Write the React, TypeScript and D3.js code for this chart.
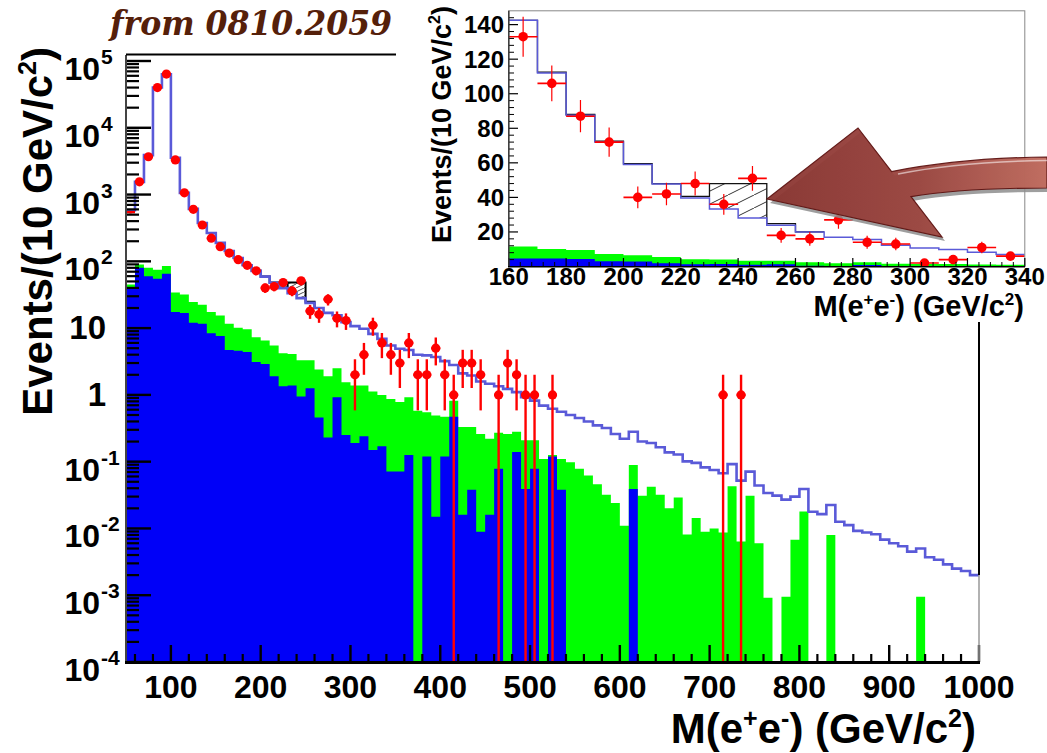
import React from "react";
import * as d3 from "d3";

// 10 GeV bins from 50 to 1000 GeV (95 bins)
const binLow = 50;
const binW = 10;

const dataCounts = [
  545, 1550, 3680, 40000, 63800, 3300, 1060, 600, 350, 222, 166,
  133, 106, 87, 72, 40, 42, 48, 36, 51, 18, 16, 27, 14, 13, 2, 4, 11, 6,
  4, 3, 6, 2, 2, 5, 2, 1, 3, 3, 2, 0, 1, 3, 2, 1, 1, 0, 1,
  0, 0, 0, 0, 0, 0, 0, 0, 0, 0, 0, 0, 0, 0, 0, 0, 0, 0, 1, 0, 1,
  0, 0, 0, 0, 0, 0, 0, 0, 0, 0, 0, 0, 0, 0, 0, 0, 0, 0, 0, 0, 0, 0, 0, 0, 0, 0,
];

const mcTotal = [
  583, 1550, 3900, 40000, 63000, 3550, 1060, 610, 375, 265, 189,
  142.5, 112, 87.5, 72, 59, 47.8, 39.7, 33.3, 28.1, 23.9, 20, 16.9, 15.6, 12.3, 10.7, 9.8, 8.2, 6.9,
  5.5, 4.9, 4.7, 4.0, 3.9, 3.7, 3.2, 2.8, 2.1, 1.95,
  1.59, 1.47, 1.35, 1.23, 1.1, 0.92, 0.82, 0.69, 0.62, 0.56, 0.5, 0.45, 0.4, 0.35, 0.32, 0.26, 0.22, 0.28, 0.2,
  0.19, 0.164, 0.138, 0.128, 0.101, 0.096, 0.082, 0.075, 0.067, 0.092, 0.052, 0.071, 0.044, 0.034, 0.031, 0.027, 0.03, 0.039,
  0.0178, 0.0164, 0.0224, 0.0126, 0.0112, 0.0092, 0.0087, 0.0082, 0.0068, 0.006, 0.0054, 0.0045, 0.005, 0.0037, 0.0034, 0.0029, 0.0025, 0.0023, 0.002,
];

const bkgGreen = [
  45, 90, 80, 75, 85, 34, 32, 24.6, 22.4, 17.4, 15.5,
  11.6, 10.1, 9.6, 7.3, 6.5, 5.5, 4.2, 4.1, 3.3, 3.3, 2.4, 1.9, 2.5, 1.55, 1.38, 1.38, 1.12, 1.0,
  0.87, 0.78, 0.92, 0.58, 0.55, 0.49, 0.47, 0.82, 0.33, 0.33, 0.26, 0.22, 0.27, 0.26, 0.28, 0.21, 0.21, 0.11, 0.126,
  0.11, 0.098, 0.078, 0.062, 0.046, 0.032, 0.024, 0.011, 0.089, 0.031, 0.042, 0.032, 0.02, 0.029, 0.0081, 0.0143, 0.0089, 0.01, 0.0087,
  0.043, 0.0064, 0.031, 0.006, 0.00092, 0, 0.00095, 0.0068, 0.018, 0, 0, 0.008,
  0, 0, 0, 0, 0, 0, 0, 0, 0, 0.00095, 0, 0, 0, 0, 0, 0,
];

const bkgBlue = [
  40, 80, 60, 55, 65, 17.4, 16.8, 12, 11.6, 8.4, 7.6,
  4.7, 4.6, 4.4, 3.1, 2.9, 1.9, 1.35, 1.38, 0.95, 1.26, 0.46, 0.23, 0.92, 0.25, 0.19, 0.24, 0.15, 0.17,
  0.071, 0.071, 0.126, 0, 0.12, 0.015, 0.12, 0.47, 0.016, 0.038, 0.0089, 0.016, 0.078, 0, 0.14, 0.039, 0.078, 0, 0.12, 0.038,
  0, 0, 0, 0, 0, 0, 0, 0.039,
  0, 0, 0, 0, 0, 0, 0, 0, 0, 0, 0, 0, 0, 0, 0, 0, 0, 0, 0,
  0, 0, 0, 0, 0, 0, 0, 0, 0, 0, 0, 0, 0, 0, 0, 0, 0, 0, 0,
];

// black reference histogram, 160-270 GeV
const refFirstBin = 11;
const refHist = [142.5, 112.5, 88, 72.5, 59.5, 48, 40.6, 48, 48, 24.8, 20];
// hatched excess box, 230-250 GeV
const hatchBins = [18, 19];
const hatchTop = 48;

const mainXTicks = [100, 200, 300, 400, 500, 600, 700, 800, 900, 1000];
const mainYDecades = [-4, -3, -2, -1, 0, 1, 2, 3, 4, 5];
const insetXTicks = [160, 180, 200, 220, 240, 260, 280, 300, 320, 340];
const insetYTicks = [20, 40, 60, 80, 100, 120, 140];
const insetFirstBin = 11;
const insetLastBin = 28;

const FONT = "'Liberation Sans', Arial, Helvetica, sans-serif";
const RED = "#ff0000";
const GREEN = "#00ff00";
const BLUE = "#0000f8";
const MC = "#5a5ad8";

const edge = (i: number) => binLow + i * binW;

function stairs(vals: number[], first: number, xs: any, ys: any) {
  const pts: [number, number][] = vals.map((v, k) => [edge(first + k), v]);
  pts.push([edge(first + vals.length), vals[vals.length - 1]]);
  return d3
    .line<[number, number]>()
    .x((d) => xs(d[0]))
    .y((d) => ys(d[1]))
    .curve(d3.curveStepAfter)(pts) as string;
}

// filled histogram (no seams between bins)
function filledHist(vals: number[], first: number, xs: any, ys: any, base: number) {
  const pts: [number, number][] = vals.map((v, k) => [edge(first + k), v]);
  pts.push([edge(first + vals.length), 0]);
  return d3
    .area<[number, number]>()
    .x((d) => xs(d[0]))
    .y0(base)
    .y1((d) => (d[1] > 0 ? ys(d[1]) : base))
    .curve(d3.curveStepAfter)(pts) as string;
}

export default function App() {
  // main plot
  const x = d3.scaleLinear().domain([50, 1000]).range([126, 979]);
  const y = d3.scaleLog().domain([1e-4, 1e5]).range([662, 61]);
  const yBot = 662;
  const top = 55;

  // inset plot
  const xi = d3.scaleLinear().domain([160, 340]).range([508.8, 1024.8]);
  const yi = d3.scaleLinear().domain([0, 148]).range([266.5, 10.8]);

  const minorY: number[] = [];
  for (let e = -4; e <= 4; e++) for (let m = 2; m <= 9; m++) minorY.push(m * Math.pow(10, e));
  const minorX = d3.range(60, 1001, 20).filter((v) => v % 100 !== 0);
  const insetMinorY = d3.range(0, 148, 4).filter((v) => v % 20 !== 0);
  const insetMinorX = d3.range(160, 341, 4).filter((v) => v % 20 !== 0);

  const insetBins = d3.range(insetFirstBin, insetLastBin + 1);
  const insetSlice = (a: number[]) => a.slice(insetFirstBin, insetLastBin + 1);

  const hatchPoly = (xs: any, ys: any) => {
    const [a, b] = hatchBins;
    const pts = [
      [edge(a), mcTotal[a]],
      [edge(a), hatchTop],
      [edge(b + 1), hatchTop],
      [edge(b + 1), mcTotal[b]],
      [edge(b), mcTotal[b]],
      [edge(b), mcTotal[a]],
    ];
    return pts.map((p) => `${xs(p[0])},${ys(p[1])}`).join(" ");
  };

  const arrowPath =
    "M767,199 L858,128 L891.6,171.6 Q960,158 1047,157 L1047,188 Q960,188 911,196.7 L942,237 Z";

  return (
    <svg width={1047} height={753} style={{ position: "absolute", left: 0, top: 0, background: "#fff" }}
      fontFamily={FONT} fontWeight="bold">
      <defs>
        <clipPath id="mainClip">
          <rect x={126} y={top} width={853} height={yBot - top} />
        </clipPath>
        <clipPath id="insetClip">
          <rect x={508.8} y={10.8} width={516} height={255.7} />
        </clipPath>
        <pattern id="hatchMain" width={8} height={4} patternUnits="userSpaceOnUse">
          <line x1={0} y1={4} x2={8} y2={0} stroke="#222" strokeWidth={0.8} />
        </pattern>
        <pattern id="hatchInset" width={26} height={13} patternUnits="userSpaceOnUse">
          <line x1={0} y1={13} x2={26} y2={0} stroke="#333" strokeWidth={1} />
        </pattern>
        <linearGradient id="arrowGrad" x1="0" x2="1" y1="0" y2="0">
          <stop offset="0" stopColor="#8a3430" />
          <stop offset="0.55" stopColor="#9c4640" />
          <stop offset="1" stopColor="#c26c5e" />
        </linearGradient>
      </defs>

      {/* title */}
      <text x={110} y={35} fontFamily="'DejaVu Serif', serif" fontStyle="italic" fontWeight="bold"
        fontSize={34} fill="#55200a" textLength={282} lengthAdjust="spacingAndGlyphs">
        from 0810.2059
      </text>

      {/* ===== main plot ===== */}
      <g clipPath="url(#mainClip)">
        <path d={filledHist(bkgGreen, 0, x, y, yBot)} fill={GREEN} />
        <path d={filledHist(bkgBlue, 0, x, y, yBot)} fill={BLUE} />
        <polygon points={hatchPoly(x, y)} fill="url(#hatchMain)" />
        <path d={stairs(refHist, refFirstBin, x, y)} fill="none" stroke="#000" strokeWidth={2} />
        <path d={stairs(mcTotal, 0, x, y)} fill="none" stroke={MC} strokeWidth={2.6} />
        {dataCounts.map((n, i) => {
          if (n <= 0) return null;
          const cx = x(edge(i) + binW / 2);
          const lo = n - Math.sqrt(n);
          return (
            <g key={"d" + i}>
              <line x1={cx} x2={cx} y1={y(n + Math.sqrt(n))} y2={lo > 1e-4 ? y(lo) : yBot}
                stroke={RED} strokeWidth={2.4} />
              <line x1={x(edge(i))} x2={x(edge(i + 1))} y1={y(n)} y2={y(n)} stroke={RED} strokeWidth={2.4} />
              {cx - 4.6 >= 128 ? <circle cx={cx} cy={y(n)} r={4.6} fill={RED} /> : null}
            </g>
          );
        })}
      </g>

      {/* main axes */}
      {minorY.map((v) => (
        <line key={"my" + v} x1={127} x2={139} y1={y(v)} y2={y(v)} stroke="#000" strokeWidth={2.2} />
      ))}
      {mainYDecades.map((e) => (
        <line key={"My" + e} x1={127} x2={151} y1={y(Math.pow(10, e))} y2={y(Math.pow(10, e))}
          stroke="#000" strokeWidth={2.4} />
      ))}
      {minorX.map((v) => (
        <line key={"mx" + v} x1={x(v)} x2={x(v)} y1={yBot} y2={yBot - 8} stroke="#000" strokeWidth={2.2} />
      ))}
      {mainXTicks.map((v) => (
        <line key={"Mx" + v} x1={x(v)} x2={x(v)} y1={yBot} y2={yBot - 17} stroke="#000" strokeWidth={2.4} />
      ))}
      <line x1={126} x2={126} y1={top} y2={yBot + 1} stroke="#444" strokeWidth={2} />
      <line x1={126} x2={396} y1={54.5} y2={54.5} stroke="#000" strokeWidth={2} />
      <line x1={979} x2={979} y1={322} y2={yBot} stroke="#999" strokeWidth={1.5} />
      <line x1={979} x2={979} y1={322} y2={y(mcTotal[mcTotal.length - 1])} stroke="#000" strokeWidth={2} />
      <line x1={125} x2={980} y1={yBot + 0.5} y2={yBot + 0.5} stroke="#000" strokeWidth={3} />

      {mainYDecades.map((e) => {
        const ty = y(Math.pow(10, e));
        if (e === 0 || e === 1)
          return (
            <text key={"ly" + e} x={106} y={ty + 11} textAnchor="end" fontSize={33}>
              {e === 0 ? "1" : "10"}
            </text>
          );
        return (
          <g key={"ly" + e}>
            <text x={100} y={ty + 19} textAnchor="end" fontSize={32}>10</text>
            <text x={101} y={ty + 3} fontSize={21}>{e}</text>
          </g>
        );
      })}
      {mainXTicks.map((v) => (
        <text key={"lx" + v} x={x(v)} y={698} textAnchor="middle" fontSize={32}>{v}</text>
      ))}

      <text x={976} y={743} textAnchor="end" fontSize={42}>
        M(e<tspan dy={-16} fontSize={25}>+</tspan>
        <tspan dy={16}>e</tspan>
        <tspan dy={-16} fontSize={25}>-</tspan>
        <tspan dy={16}>) (GeV/c</tspan>
        <tspan dy={-16} fontSize={25}>2</tspan>
        <tspan dy={16}>)</tspan>
      </text>
      <text transform="translate(52,47) rotate(-90)" textAnchor="end" fontSize={42}>
        Events/(10 GeV/c<tspan dy={-16} fontSize={25}>2</tspan>
        <tspan dy={16}>)</tspan>
      </text>

      {/* ===== inset ===== */}
      <rect x={396} y={0} width={651} height={322} fill="#fff" />
      <g clipPath="url(#insetClip)">
        <path d={filledHist(insetSlice(bkgGreen), insetFirstBin, xi, yi, yi(0))} fill={GREEN} />
        <path d={filledHist(insetSlice(bkgBlue), insetFirstBin, xi, yi, yi(0))} fill={BLUE} />
        <polygon points={hatchPoly(xi, yi)} fill="url(#hatchInset)" />
        <path d={stairs(refHist, refFirstBin, xi, yi)} fill="none" stroke="#111" strokeWidth={1.3} />
        <path d={stairs(insetSlice(mcTotal), insetFirstBin, xi, yi)} fill="none" stroke={MC} strokeWidth={1.5} />
        {insetBins.map((i) => {
          const n = dataCounts[i];
          const cx = xi(edge(i) + binW / 2);
          return (
            <g key={"id" + i}>
              <line x1={cx} x2={cx} y1={yi(n + Math.sqrt(n))} y2={yi(Math.max(0, n - Math.sqrt(n)))}
                stroke={RED} strokeWidth={1.2} />
              <line x1={xi(edge(i))} x2={xi(edge(i + 1))} y1={yi(n)} y2={yi(n)} stroke={RED} strokeWidth={1.6} />
              <circle cx={cx} cy={yi(n)} r={4.8} fill={RED} />
            </g>
          );
        })}
      </g>
      <rect x={508.8} y={10.8} width={516} height={255.7} fill="none" stroke="#888" strokeWidth={1} />
      {insetMinorY.map((v) => (
        <line key={"imy" + v} x1={509} x2={514} y1={yi(v)} y2={yi(v)} stroke="#000" strokeWidth={1} />
      ))}
      {insetYTicks.map((v) => (
        <line key={"iMy" + v} x1={509} x2={518} y1={yi(v)} y2={yi(v)} stroke="#000" strokeWidth={1.2} />
      ))}
      {insetMinorX.map((v) => (
        <line key={"imx" + v} x1={xi(v)} x2={xi(v)} y1={266.5} y2={262} stroke="#000" strokeWidth={1} />
      ))}
      {insetXTicks.map((v) => (
        <line key={"iMx" + v} x1={xi(v)} x2={xi(v)} y1={266.5} y2={258} stroke="#000" strokeWidth={1.2} />
      ))}
      <line x1={508.8} x2={508.8} y1={10.8} y2={267} stroke="#333" strokeWidth={1.4} />
      <line x1={508} x2={1025} y1={266.8} y2={266.8} stroke="#000" strokeWidth={1.6} />
      {insetYTicks.map((v) => (
        <text key={"ily" + v} x={504} y={yi(v) + 8.5} textAnchor="end" fontSize={24}>{v}</text>
      ))}
      {insetXTicks.map((v) => (
        <text key={"ilx" + v} x={xi(v)} y={285} textAnchor="middle" fontSize={24}>{v}</text>
      ))}
      <text x={1024} y={316} textAnchor="end" fontSize={29}>
        M(e<tspan dy={-11} fontSize={17}>+</tspan>
        <tspan dy={11}>e</tspan>
        <tspan dy={-11} fontSize={17}>-</tspan>
        <tspan dy={11}>) (GeV/c</tspan>
        <tspan dy={-11} fontSize={17}>2</tspan>
        <tspan dy={11}>)</tspan>
      </text>
      <text transform="translate(451,6) rotate(-90)" textAnchor="end" fontSize={27}>
        Events/(10 GeV/c<tspan dy={-11} fontSize={16}>2</tspan>
        <tspan dy={11}>)</tspan>
      </text>

      {/* arrow pointing at the excess */}
      <path d={arrowPath} transform="translate(3,4)" fill="#8d8d8d" opacity={0.85} />
      <path d={arrowPath} fill="url(#arrowGrad)" stroke="#5e1210" strokeWidth={1.2} opacity={0.95} />
      <path d="M898,174 Q960,161.5 1047,160.5" fill="none" stroke="#fff" strokeOpacity={0.55} strokeWidth={1.6} />
    </svg>
  );
}
